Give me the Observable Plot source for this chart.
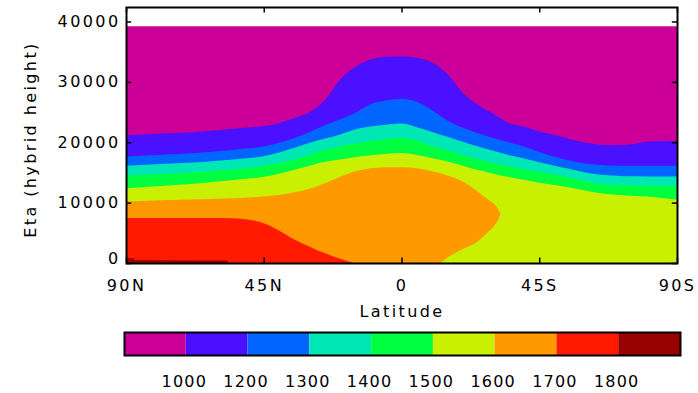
<!DOCTYPE html>
<html><head><meta charset="utf-8">
<script src="https://cdn.jsdelivr.net/npm/d3@7"></script>
<script src="https://cdn.jsdelivr.net/npm/@observablehq/plot@0.6"></script>
<style>
body{margin:0;background:#fff;}
#chart svg{display:block;}
#chart svg text{letter-spacing:2.4px;}
#bar svg{display:block;}
#bar svg text{letter-spacing:1.2px;}
</style></head><body><div id="chart"></div><div id="bar"></div>
<script>
// Contour levels and fill colours (colour bar)
const levels = [1000, 1200, 1300, 1400, 1500, 1600, 1700, 1800];
const colors = ["#CC0099", "#4B10FF", "#0066FF", "#00E6B4", "#00FF40", "#C8F000", "#FF9900", "#FF1A00", "#990000"];

// Axis ticks
const xTicks = [90, 45, 0, -45, -90];
const xTickLabels = ["90N", "45N", "0", "45S", "90S"];
const yTicks = [10000, 20000, 30000, 40000];
const yTickLabels = ["10000", "20000", "30000", "40000"];
const yZeroTick = [0];

// Model top
const topLat = [90, -90];
const topH = [39200, 39200];

// Contour heights (Eta) by latitude
const lats = [90,80,70,60,50,45,40,35,30,25,20,15,10,5,0,-5,-10,-15,-20,-25,-30,-35,-40,-45,-50,-55,-60,-65,-70,-75,-80,-85,-90];
const h1000 = [21150,21400,21600,22000,22450,22650,23200,24000,25000,27000,30400,32500,33700,34150,34200,34000,33200,31300,28200,26200,24700,23200,22600,21800,21200,20550,19950,19600,19550,19650,20100,20200,20200];
const h1200 = [17650,17900,18150,18500,19000,19300,19900,20700,21700,22800,23800,24900,26300,26900,27200,26700,25300,23600,22400,21500,20700,20000,19300,18400,17600,16950,16500,16250,16100,16100,16100,16100,16100];
const h1300 = [16100,16350,16600,16950,17400,17700,18300,19100,19900,20600,21300,22150,22600,22900,23100,22500,21700,20900,20100,19300,18600,17900,17300,16700,16100,15550,15000,14600,14450,14350,14340,14340,14340];
const h1400 = [14500,14700,14950,15300,15750,16100,16550,17150,17900,18700,19300,19800,20200,20500,20700,20300,19350,18700,17850,17200,16550,16000,15500,15100,14600,14150,13600,13100,12900,12850,12800,12800,12800];
const h1500 = [12400,12700,13050,13500,14000,14300,14800,15450,16100,16750,17150,17550,17850,18100,18200,17900,17400,16800,16100,15400,14800,14250,13800,13300,12900,12500,12000,11550,11300,11150,11000,10750,10480];

// 1600 region (closed on the southern side)
const orangeLat  = [90,80,70,60,50,45,40,35,30,25,20,15,10,5,0,-5,-10,-12.5,-15,-20,-25,-28,-30,-31.5,-32.3];
const orangeTop  = [10200,10350,10500,10650,10850,11000,11250,11700,12300,13200,14300,15200,15700,15850,15850,15700,15200,14850,14500,13500,11800,10600,9900,9000,8100];
const orangeBase = [0,0,0,0,0,0,0,0,0,0,0,0,0,0,0,0,0,0,900,2300,3600,5000,6000,7100,8100];

// 1700 region
const redLat = [90,80,70,60,55,50,45,40,35,30,25,20,15.5];
const redTop = [7450,7450,7450,7450,7400,7150,6600,5400,3900,2700,1600,700,0];

// 1800 region
const darkRedLat = [90,87.5,87,80,70,60,57,56.5];
const darkRedTop = [850,800,450,440,430,420,400,0];

const rows = (la, hi, lo) => la.map((lat, i) => ({lat, hi: hi[i], lo: lo ? lo[i] : 0}));
const band = (data, color) => Plot.areaY(data, {x: "lat", y1: "lo", y2: "hi", fill: color, curve: "monotone-x"});

const main = Plot.plot({
  width: 698, height: 320,
  marginLeft: 126, marginRight: 21, marginTop: 7, marginBottom: 57,
  style: {fontFamily: "DejaVu Sans", fontSize: "16px", background: "white", color: "black", overflow: "visible"},
  x: {domain: [90, -90], axis: null},
  y: {domain: [0, 42400], axis: null},
  marks: [
    Plot.areaY(rows(topLat, topH), {x: "lat", y1: "lo", y2: "hi", fill: colors[0]}),
    band(rows(lats, h1000), colors[1]),
    band(rows(lats, h1200), colors[2]),
    band(rows(lats, h1300), colors[3]),
    band(rows(lats, h1400), colors[4]),
    band(rows(lats, h1500), colors[5]),
    band(rows(orangeLat, orangeTop, orangeBase), colors[6]),
    band(rows(redLat, redTop), colors[7]),
    Plot.areaY(rows(darkRedLat, darkRedTop), {x: "lat", y1: "lo", y2: "hi", fill: colors[8]}),
    Plot.frame({stroke: "black", strokeWidth: 2}),
    Plot.ruleX(xTicks, {x: d => d, y1: 0, y2: 900, stroke: "black", strokeWidth: 1.5}),
    Plot.ruleX(xTicks, {x: d => d, y1: 41500, y2: 42400, stroke: "black", strokeWidth: 1.5}),
    Plot.ruleY(yTicks.concat(yZeroTick), {y: d => d, x1: 90, x2: 88.3, stroke: "black", strokeWidth: 1.5}),
    Plot.ruleY(yTicks.concat(yZeroTick), {y: d => d, x1: -90, x2: -88.3, stroke: "black", strokeWidth: 1.5}),
    Plot.text(xTicks, {x: d => d, text: (d, i) => xTickLabels[i], frameAnchor: "bottom", lineAnchor: "middle", dy: 22, fill: "black"}),
    Plot.text(yTicks, {y: d => d, text: (d, i) => yTickLabels[i], frameAnchor: "left", lineAnchor: "middle", textAnchor: "end", dx: -6, fill: "black"}),
    Plot.text(yZeroTick, {y: d => d, text: d => String(d), frameAnchor: "left", lineAnchor: "middle", textAnchor: "end", dx: -6, dy: -5, fill: "black"}),
    Plot.text(["Latitude"], {text: d => d, frameAnchor: "bottom", lineAnchor: "middle", textAnchor: "middle", dy: 48, fill: "black"}),
    Plot.text(["Eta (hybrid height)"], {text: d => d, frameAnchor: "left", lineAnchor: "middle", textAnchor: "middle", rotate: -90, dx: -96, dy: 4, fill: "black"})
  ]
});
document.getElementById("chart").appendChild(main);

const bar = Plot.plot({
  width: 698, height: 73,
  marginLeft: 124, marginRight: 18, marginTop: 12, marginBottom: 38,
  style: {fontFamily: "DejaVu Sans", fontSize: "16px", background: "white", color: "black"},
  x: {domain: [0, colors.length], axis: null},
  y: {domain: [0, 1], axis: null},
  color: {type: "identity"},
  marks: [
    Plot.rect(colors, {x1: (d, i) => i, x2: (d, i) => i + 1, y1: 0, y2: 1, fill: d => d}),
    Plot.frame({stroke: "black", strokeWidth: 2}),
    Plot.text(levels, {x: (d, i) => i + 1, text: d => String(d), frameAnchor: "bottom", lineAnchor: "middle", dy: 26, dx: -2, fill: "black"})
  ]
});
document.getElementById("bar").appendChild(bar);
</script>
</body></html>
